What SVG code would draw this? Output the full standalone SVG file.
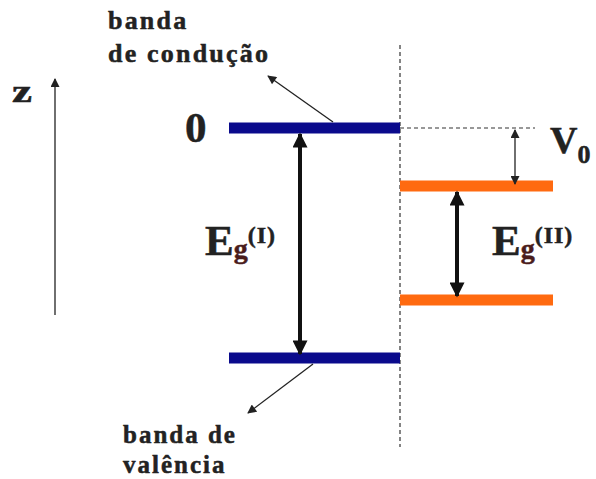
<svg xmlns="http://www.w3.org/2000/svg" width="596" height="479" viewBox="0 0 596 479">
<defs>
<style>
.t{font-family:"Liberation Serif","Times New Roman",serif;font-weight:bold;fill:#222;stroke:#222;stroke-width:0.5}
.g{fill:#4a1c1c;stroke:#4a1c1c}
.blue{stroke:#0a0a8c;stroke-width:11}
.orange{stroke:#ff6a10;stroke-width:11}
.thin{stroke:#222;stroke-width:1.3;fill:none}
.thick{stroke:#111;stroke-width:4;fill:none}
.dash{stroke:#333;stroke-width:1.2;stroke-dasharray:4 3;fill:none}
</style>
<marker id="ah" viewBox="0 0 10 10" refX="9" refY="5" markerWidth="11" markerHeight="9" markerUnits="userSpaceOnUse" orient="auto-start-reverse"><path d="M0,0L10,5L0,10z" fill="#222"/></marker>
<marker id="ahb" viewBox="0 0 10 10" refX="9" refY="5" markerWidth="16" markerHeight="15" markerUnits="userSpaceOnUse" orient="auto-start-reverse"><path d="M0,0L10,5L0,10z" fill="#111"/></marker>
</defs>
<rect width="596" height="479" fill="#fff"/>
<g id="guides">
<line class="dash" x1="400" y1="45" x2="400" y2="447"/>
<line class="dash" x1="400" y1="128" x2="535" y2="128"/>
</g>
<g id="band-I-conduction"><line class="blue" x1="229" y1="128" x2="400" y2="128"/></g>
<g id="band-I-valence"><line class="blue" x1="229" y1="358" x2="400" y2="358"/></g>
<g id="band-II-conduction"><line class="orange" x1="400" y1="186" x2="553" y2="186"/></g>
<g id="band-II-valence"><line class="orange" x1="400" y1="300" x2="553" y2="300"/></g>
<g id="connectors">
<line class="thin" x1="55" y1="315" x2="55" y2="79" marker-end="url(#ah)"/>
<line class="thin" x1="333" y1="122" x2="268" y2="76" marker-end="url(#ah)"/>
<line class="thin" x1="313" y1="364" x2="248" y2="413" marker-end="url(#ah)"/>
<line class="thin" x1="515" y1="130" x2="515" y2="184" marker-start="url(#ah)" marker-end="url(#ah)"/>
<line class="thick" x1="300" y1="134" x2="300" y2="354" marker-start="url(#ahb)" marker-end="url(#ahb)"/>
<line class="thick" x1="457" y1="192" x2="457" y2="296" marker-start="url(#ahb)" marker-end="url(#ahb)"/>
</g>
<g id="labels">
<text class="t" x="108" y="29" font-size="26" letter-spacing="2.2">banda</text>
<text class="t" x="108" y="62" font-size="26" letter-spacing="2.2">de condução</text>
<text class="t" x="12" y="102" font-size="32" textLength="20" lengthAdjust="spacingAndGlyphs">z</text>
<text class="t" x="185" y="142" font-size="43">0</text>
<text class="t" x="550" y="153" font-size="38">V<tspan font-size="26" dy="10">0</tspan></text>
<text class="t" x="205" y="255" font-size="43">E<tspan class="g" font-size="28" dy="3">g</tspan><tspan font-size="24" dy="-15" letter-spacing="1">(I)</tspan></text>
<text class="t" x="492" y="255" font-size="43">E<tspan class="g" font-size="28" dy="3">g</tspan><tspan font-size="24" dy="-15" letter-spacing="1">(II)</tspan></text>
<text class="t" x="123" y="443" font-size="25" letter-spacing="2">banda de</text>
<text class="t" x="123" y="473" font-size="25" letter-spacing="2">valência</text>
</g>
</svg>
